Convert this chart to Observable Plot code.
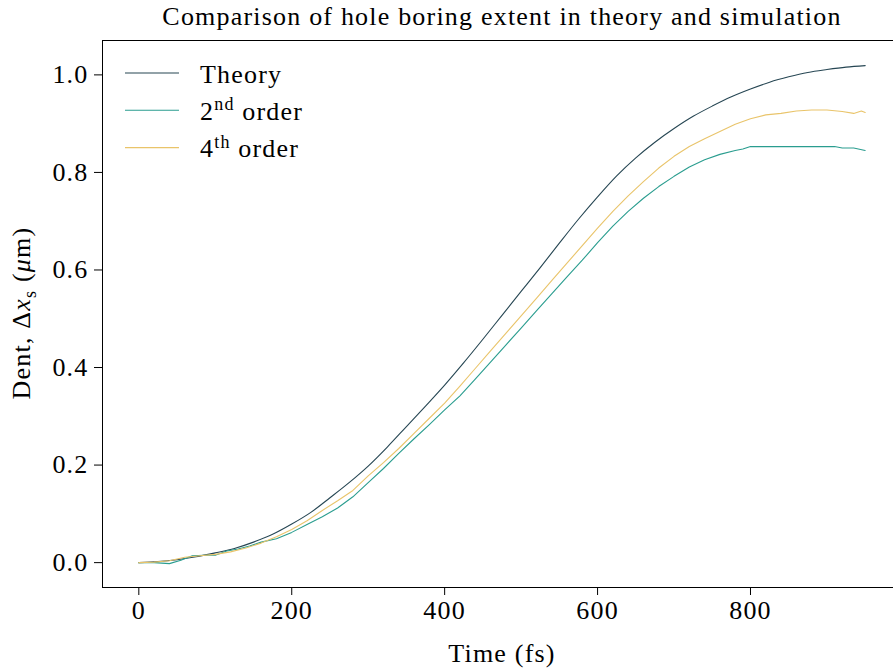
<!DOCTYPE html>
<html><head><meta charset="utf-8">
<script src="https://cdn.jsdelivr.net/npm/d3@7"></script>
<script src="https://cdn.jsdelivr.net/npm/@observablehq/plot@0.6"></script>
<style>body{margin:0;background:#fff;overflow:hidden} svg{display:block}</style>
</head><body><div id="chart"></div>
<script>
const titleText = "Comparison of hole boring extent in theory and simulation";
const xLabel = "Time (fs)";
const seriesNames = ["Theory", "2nd order", "4th order"];
const seriesColors = ["#264653", "#2a9d8f", "#e9c46a"];
const xTicks = [0, 200, 400, 600, 800];
const yTicks = [0.0, 0.2, 0.4, 0.6, 0.8, 1.0];

const theoryTime = [0,25,50,75,100,125,150,175,200,225,250,275,300,325,350,375,400,425,450,475,500,525,550,575,600,625,650,675,700,725,750,775,800,825,850,875,900,925,950];
const theoryDent = [0,0.002,0.006,0.012,0.020,0.029,0.042,0.058,0.079,0.103,0.133,0.164,0.198,0.237,0.279,0.321,0.364,0.410,0.458,0.507,0.556,0.605,0.655,0.704,0.750,0.793,0.830,0.862,0.890,0.915,0.936,0.955,0.971,0.985,0.996,1.005,1.011,1.016,1.019];

const order2Time = [0,20,40,55,70,85,100,115,130,145,160,180,200,220,240,260,280,300,320,340,360,380,400,420,440,460,480,500,520,540,560,580,600,620,640,660,680,700,720,740,760,780,790,800,820,850,880,910,920,935,950];
const order2Dent = [0,0.000,-0.002,0.005,0.014,0.015,0.015,0.024,0.028,0.034,0.042,0.049,0.062,0.078,0.094,0.112,0.135,0.164,0.193,0.224,0.254,0.283,0.313,0.342,0.376,0.411,0.446,0.481,0.516,0.551,0.586,0.620,0.656,0.690,0.720,0.747,0.771,0.792,0.811,0.826,0.837,0.845,0.848,0.853,0.853,0.853,0.853,0.853,0.850,0.850,0.845];

const order4Time = [0,20,40,60,80,100,120,140,160,180,200,220,240,260,280,300,320,340,360,380,400,420,440,460,480,500,520,540,560,580,600,620,640,660,680,700,720,740,760,780,800,820,840,860,880,900,920,935,945,950];
const order4Dent = [0,0.001,0.004,0.011,0.014,0.017,0.022,0.030,0.040,0.053,0.068,0.086,0.107,0.127,0.148,0.178,0.205,0.234,0.265,0.296,0.327,0.362,0.398,0.434,0.470,0.506,0.542,0.578,0.614,0.650,0.686,0.720,0.752,0.781,0.809,0.833,0.853,0.869,0.884,0.899,0.910,0.918,0.921,0.926,0.928,0.928,0.925,0.921,0.926,0.923];

const FONT = "'Liberation Serif', 'DejaVu Serif', serif";
const FS = 26;
const LS = "1.2px";

const toRows = (ts, vs, name) => ts.map((t, j) => ({t, v: vs[j], series: name}));
const theoryRows = toRows(theoryTime, theoryDent, seriesNames[0]);
const simRows = [...toRows(order2Time, order2Dent, seriesNames[1]), ...toRows(order4Time, order4Dent, seriesNames[2])];

const xMin = -47.5, xMax = 997.5;
const yMin = -0.051, yMax = 1.0705;

const plot = Plot.plot({
  width: 893, height: 671,
  marginTop: 40, marginBottom: 84, marginLeft: 102, marginRight: -8,
  style: {fontFamily: FONT, fontSize: FS + "px", color: "#000", background: "#fff", letterSpacing: LS},
  x: {domain: [xMin, xMax]},
  y: {domain: [yMin, yMax]},
  color: {domain: seriesNames, range: seriesColors},
  marks: [
    Plot.axisX({ticks: xTicks, tickSize: 8, tickPadding: 5, tickFormat: d => String(d), label: null, fontSize: FS}),
    Plot.axisY({ticks: yTicks, tickSize: 8, tickPadding: 6, tickFormat: d => d.toFixed(1), label: null, fontSize: FS}),
    Plot.line(theoryRows, {x: "t", y: "v", stroke: "series", strokeWidth: 1.1, curve: "monotone-x"}),
    Plot.line(simRows, {x: "t", y: "v", z: "series", stroke: "series", strokeWidth: 1.1}),
    Plot.frame({stroke: "#000", strokeWidth: 1})
  ]
});

const svg = d3.select(plot);
svg.style("overflow", "hidden");
const addText = (x, y) => svg.append("text").attr("x", x).attr("y", y).attr("text-anchor", "middle")
  .style("font-family", FONT).style("font-size", FS + "px").style("letter-spacing", LS).attr("fill", "#000");
addText(502, 25).text(titleText);
addText(502, 662).text(xLabel);
// y label
const yl = svg.append("text").attr("transform", "translate(30,313) rotate(-90)").attr("text-anchor", "middle")
  .style("font-family", FONT).style("font-size", FS + "px").style("letter-spacing", LS).attr("fill", "#000");
yl.append("tspan").text("Dent, Δ");
yl.append("tspan").style("font-style", "italic").text("x");
yl.append("tspan").attr("dy", 6).style("font-size", "18px").text("s");
yl.append("tspan").attr("dy", -6).text(" (");
yl.append("tspan").style("font-style", "italic").text("μ");
yl.append("tspan").text("m)");

// legend
const legendItems = [["Theory", ""], ["2", "nd"], ["4", "th"]];
const legendRest = ["", " order", " order"];
const lg = svg.append("g").style("font-family", FONT).style("font-size", FS + "px").style("letter-spacing", LS);
legendItems.forEach(([a, sup], i) => {
  const y = 73 + i * 37.3;
  lg.append("line").attr("x1", 125).attr("x2", 179).attr("y1", y).attr("y2", y)
    .attr("stroke", seriesColors[i]).attr("stroke-width", 1.1);
  const t = lg.append("text").attr("x", 200).attr("y", y + 9.5).attr("text-anchor", "start").attr("fill", "#000");
  t.append("tspan").text(a);
  if (sup) {
    t.append("tspan").attr("dy", -9.5).style("font-size", "18px").text(sup);
    t.append("tspan").attr("dy", 9.5).text(legendRest[i]);
  }
});

document.getElementById("chart").appendChild(plot);
</script>
</body></html>
